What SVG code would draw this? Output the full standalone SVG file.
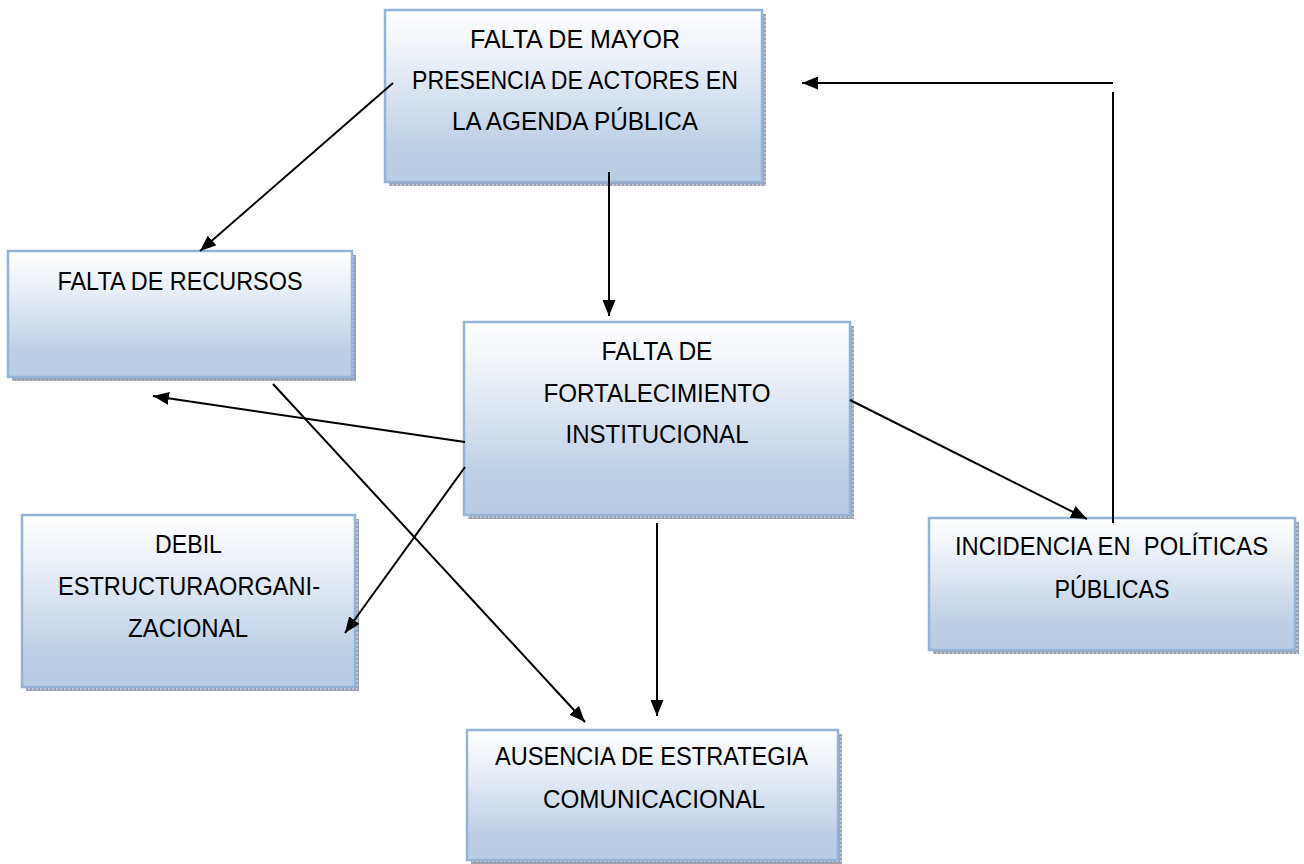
<svg xmlns="http://www.w3.org/2000/svg" width="1304" height="864" viewBox="0 0 1304 864">
<defs>
<linearGradient id="g" x1="0" y1="0" x2="0" y2="1">
<stop offset="0" stop-color="#ffffff"/>
<stop offset="0.3" stop-color="#eaeff7"/>
<stop offset="0.8" stop-color="#bccfe6"/>
<stop offset="1" stop-color="#b8cce4"/>
</linearGradient>
<pattern id="sh" width="4" height="4" patternUnits="userSpaceOnUse">
<rect width="4" height="4" fill="#9aa0b0"/>
<rect width="2" height="2" fill="#c4c8d2"/>
</pattern>
<marker id="ah" viewBox="0 0 16 13" refX="16" refY="6.5" markerWidth="16" markerHeight="13" markerUnits="userSpaceOnUse" orient="auto">
<path d="M0,0 L16,6.5 L0,13 z" fill="#000"/>
</marker>
</defs>
<style>
.box{fill:url(#g);stroke:#95b3d7;stroke-width:2.5}
.shadow{fill:url(#sh)}
.t{font-family:"Liberation Sans",Arial,sans-serif;font-size:25px;fill:#000;text-anchor:middle;white-space:pre}
.c{stroke:#000;stroke-width:2;fill:none}
.a{marker-end:url(#ah)}
</style>
<rect width="1304" height="864" fill="#fff"/>

<g id="n1">
<rect class="shadow" x="389" y="14" width="377" height="172"/>
<rect class="box" x="385" y="10" width="377" height="172"/>
<text class="t" x="575" y="48" textLength="210" lengthAdjust="spacingAndGlyphs">FALTA DE MAYOR</text>
<text class="t" x="575" y="89" textLength="326" lengthAdjust="spacingAndGlyphs">PRESENCIA DE ACTORES EN</text>
<text class="t" x="575" y="130" textLength="246" lengthAdjust="spacingAndGlyphs">LA AGENDA PÚBLICA</text>
</g>

<g id="n2">
<rect class="shadow" x="12" y="255" width="344" height="126"/>
<rect class="box" x="8" y="251" width="344" height="126"/>
<text class="t" x="180" y="290" textLength="245" lengthAdjust="spacingAndGlyphs">FALTA DE RECURSOS</text>
</g>

<g id="n3">
<rect class="shadow" x="468" y="326" width="386" height="193"/>
<rect class="box" x="464" y="322" width="386" height="193"/>
<text class="t" x="657" y="360" textLength="111" lengthAdjust="spacingAndGlyphs">FALTA DE</text>
<text class="t" x="657" y="402" textLength="227" lengthAdjust="spacingAndGlyphs">FORTALECIMIENTO</text>
<text class="t" x="657" y="443" textLength="183" lengthAdjust="spacingAndGlyphs">INSTITUCIONAL</text>
</g>

<g id="n4">
<rect class="shadow" x="933" y="522" width="366" height="132"/>
<rect class="box" x="929" y="518" width="366" height="132"/>
<text class="t" x="1111.5" y="555" textLength="313" lengthAdjust="spacingAndGlyphs">INCIDENCIA EN  POLÍTICAS</text>
<text class="t" x="1112" y="598" textLength="115" lengthAdjust="spacingAndGlyphs">PÚBLICAS</text>
</g>

<g id="n5">
<rect class="shadow" x="26" y="519" width="333" height="172"/>
<rect class="box" x="22" y="515" width="333" height="172"/>
<text class="t" x="188.5" y="553" textLength="67" lengthAdjust="spacingAndGlyphs">DEBIL</text>
<text class="t" x="189" y="595" textLength="262" lengthAdjust="spacingAndGlyphs">ESTRUCTURAORGANI-</text>
<text class="t" x="188" y="637" textLength="120" lengthAdjust="spacingAndGlyphs">ZACIONAL</text>
</g>

<g id="n6">
<rect class="shadow" x="471" y="734" width="371" height="130"/>
<rect class="box" x="467" y="730" width="371" height="130"/>
<text class="t" x="651.5" y="765" textLength="313" lengthAdjust="spacingAndGlyphs">AUSENCIA DE ESTRATEGIA</text>
<text class="t" x="654" y="808" textLength="222" lengthAdjust="spacingAndGlyphs">COMUNICACIONAL</text>
</g>

<g id="connectors">
<line class="c a" x1="393" y1="83" x2="200" y2="251"/>
<line class="c a" x1="609" y1="172" x2="609" y2="316"/>
<polyline class="c" points="1113,523 1113,92"/>
<line class="c a" x1="1113" y1="83" x2="802" y2="83"/>
<line class="c a" x1="465" y1="442" x2="153" y2="396"/>
<line class="c a" x1="465" y1="467" x2="345" y2="633"/>
<line class="c a" x1="273" y1="384" x2="585" y2="722"/>
<line class="c a" x1="657" y1="523" x2="657" y2="716"/>
<line class="c a" x1="850" y1="400" x2="1087" y2="519"/>
</g>
</svg>
